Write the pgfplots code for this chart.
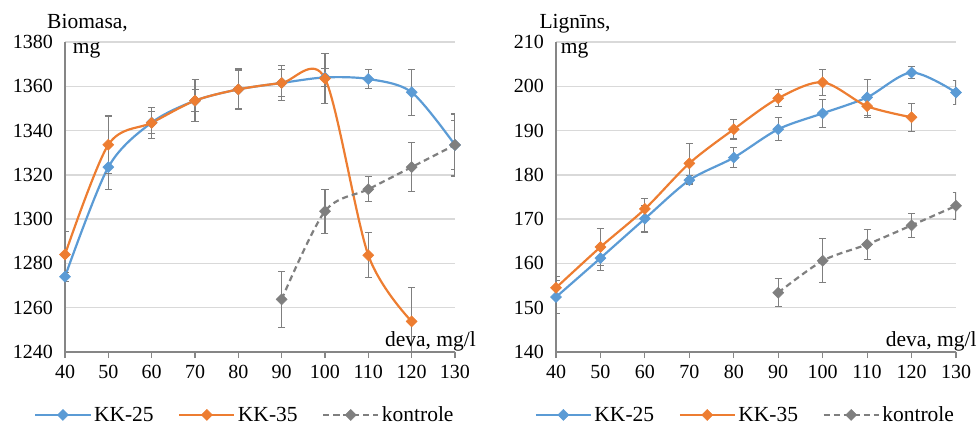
\documentclass[border=0pt]{standalone}
\usepackage{pgfplots}
\pgfplotsset{compat=1.18}
\usepackage{pgfplotstable}
\usepackage{fontspec}
\setmainfont{Liberation Serif}
\definecolor{cblue}{HTML}{5B9BD5}
\definecolor{corange}{HTML}{ED7D31}
\definecolor{cgrey}{HTML}{7F7F7F}
\definecolor{cgrid}{HTML}{D9D9D9}
\definecolor{caxis}{HTML}{868686}

% Biomasa
\pgfplotstableread{
x y e
40 1274 2
50 1323.5 10
60 1343.6 5
70 1353.5 5
80 1358.6 8.6
90 1361.5 6
100 1364 4
110 1363.3 4.3
120 1357.3 10.3
130 1333.5 11
}\bioA
\pgfplotstableread{
x y e
40 1284 10.5
50 1333.6 13
60 1343.5 7
70 1353.5 9.5
80 1358.6 9.2
90 1361.5 8
100 1363.5 11.3
110 1283.7 10.2
120 1253.8 15.5
}\bioB
\pgfplotstableread{
x y e
90 1263.8 12.6
100 1303.6 9.9
110 1313.5 5.7
120 1323.5 11
130 1333.5 14
}\bioC
% Lignins
\pgfplotstableread{
x y e
40 152.4 3.8
50 161.2 2.7
60 170.1 3
70 178.8 1
80 183.9 2.2
90 190.3 2.6
100 193.9 3.2
110 197.5 4.1
120 203.1 1.4
130 198.6 2.7
}\ligA
\pgfplotstableread{
x y e
40 154.5 2.5
50 163.7 4.2
60 172.3 2.4
70 182.6 4.5
80 190.3 2.2
90 197.3 1.9
100 200.9 2.9
110 195.5 2.5
120 193 3.2
}\ligB
\pgfplotstableread{
x y e
90 153.4 3.1
100 160.6 5
110 164.3 3.4
120 168.6 2.7
130 173 3
}\ligC

\pgfplotsset{
  mychart/.style={
    scale only axis, height=310bp,
    xmin=40, xmax=130, xtick={40,50,...,130},
    axis lines*=left,
    axis line style={draw=caxis, line width=1.6bp},
    ymajorgrids, grid style={draw=cgrid, line width=1.3bp},
    ytick style={draw=none},
    xtick style={draw=caxis, line width=1.2bp},
    tick align=outside, major tick length=6bp,
    tick label style={font=\fontsize{20bp}{24bp}\selectfont},
    /pgf/number format/assume math mode=true,
    /pgf/number format/set thousands separator={},
    yticklabel style={xshift=-2.5bp},
    xticklabel style={yshift=-4bp},
    legend columns=3,
    legend style={draw=none, fill=none, anchor=center,
      font=\fontsize{21.5bp}{25bp}\selectfont,
      nodes={inner xsep=2.5bp, inner ysep=0.5bp},
      /tikz/every even column/.append style={column sep=22bp}},
    legend image code/.code={\draw[mark repeat=2,mark phase=2,##1] plot coordinates {(0bp,0bp) (27.5bp,0bp) (55bp,0bp)};},
  },
  ser/.style={line width=2.2bp, smooth, mark=square*, mark size=3.9bp,
    mark options={rotate=45, solid, line width=0.5bp},
    error bars/y dir=both, error bars/y explicit,
    error bars/error bar style={draw=cgrey, line width=1.1bp, solid},
    error bars/error mark options={rotate=90, draw=cgrey, line width=1.1bp, mark size=3.5bp, solid}},
}

\begin{document}
\begin{tikzpicture}
\useasboundingbox (0,0) rectangle (979bp,426bp);
\begin{axis}[mychart, at={(65bp,74bp)}, anchor=south west, width=390bp,
  ymin=1240, ymax=1380, ytick={1240,1260,...,1380},
  legend style={at={(0.462,-0.203)}}]
\addplot[ser, color=cblue] table[x=x, y=y, y error=e] {\bioA};
\addlegendentry{KK-25}
\addplot[ser, color=corange] table[x=x, y=y, y error=e] {\bioB};
\addlegendentry{KK-35}
\addplot[ser, color=cgrey, dash pattern=on 6bp off 4bp] table[x=x, y=y, y error=e] {\bioC};
\addlegendentry{kontrole}
\end{axis}
\begin{axis}[mychart, at={(556bp,74bp)}, anchor=south west, width=400bp,
  ymin=140, ymax=210, ytick={140,150,...,210},
  legend style={at={(0.474,-0.203)}}]
\addplot[ser, color=cblue] table[x=x, y=y, y error=e] {\ligA};
\addlegendentry{KK-25}
\addplot[ser, color=corange] table[x=x, y=y, y error=e] {\ligB};
\addlegendentry{KK-35}
\addplot[ser, color=cgrey, dash pattern=on 6bp off 4bp] table[x=x, y=y, y error=e] {\ligC};
\addlegendentry{kontrole}
\end{axis}
\begin{scope}[every node/.style={inner sep=0pt, font=\fontsize{21.5bp}{25bp}\selectfont}]
\node[anchor=base west] at (47bp,397.7bp) {Biomasa,};
\node[anchor=base west] at (72.7bp,372.7bp) {mg};
\node[anchor=base west] at (539.3bp,397.7bp) {Lignīns,};
\node[anchor=base west] at (560.7bp,372.7bp) {mg};
\node[anchor=base east] at (476bp,79.3bp) {deva, mg/l};
\node[anchor=base east] at (976.7bp,79.3bp) {deva, mg/l};
\end{scope}
\end{tikzpicture}
\end{document}
